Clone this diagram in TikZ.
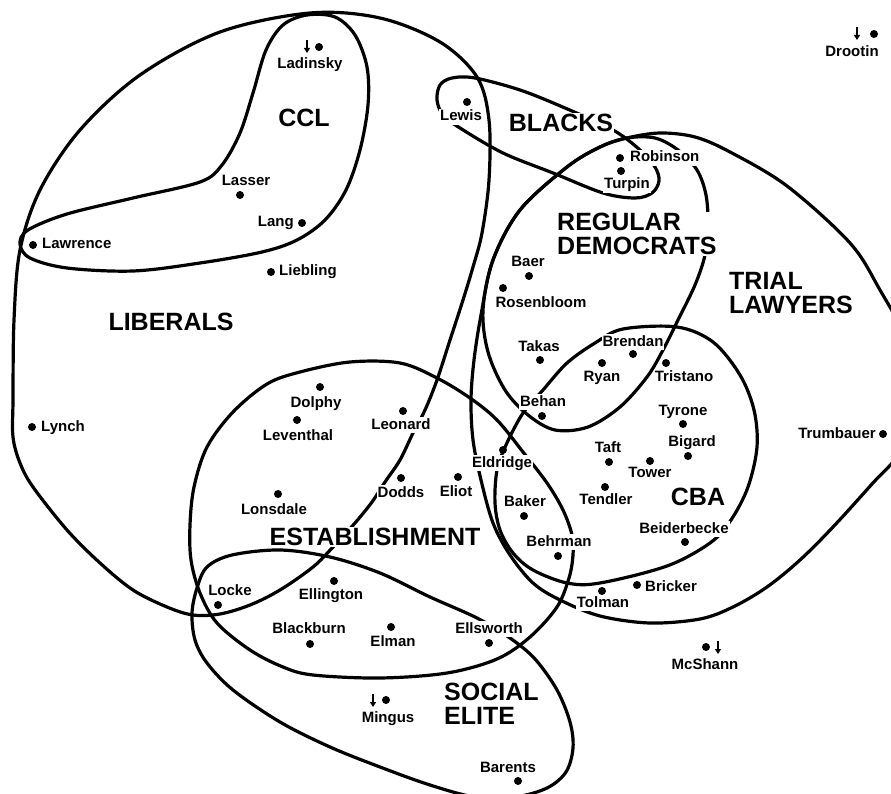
\documentclass[tikz,border=0pt]{standalone}
\usepackage{fontspec}
\setmainfont{Liberation Sans}
\usetikzlibrary{arrows.meta}
\begin{document}
\begin{tikzpicture}[x=1pt,y=-1pt,
  grp/.style={line width=3.2pt, line join=round},
  nm/.style={font=\bfseries\fontsize{15}{16}\selectfont, fill=white, inner sep=1pt, text height=11pt, text depth=3pt},
  big/.style={font=\bfseries\fontsize{25}{24.5}\selectfont, fill=white, inner sep=1pt, align=left},
  dot/.style={circle, fill=black, inner sep=0pt, minimum size=8pt},
  dn/.style={line width=1.8pt, -{Triangle[width=6pt,length=5pt]}}]
\useasboundingbox (0,0) rectangle (891,794);
\fill[white] (0,0) rectangle (891,794);
% LIBERALS
\draw[grp] plot[smooth cycle, tension=0.55] coordinates {(13,400) (14,320) (20,250) (40,190) (80,130) (140,75) (220,32) (310,13) (380,18) (440,42) (477,77) (489,120) (489,180) (482,233) (473,267) (463,300) (450,340) (437,380) (425,410) (413,433) (400,460) (385,482) (372,502) (355,523) (333,547) (313,567) (280,590) (250,605) (220,614) (193,615) (167,607) (133,590) (100,563) (67,530) (33,487) (20,463) (13,437)};
% CCL
\draw[grp] plot[smooth cycle, tension=0.55] coordinates {(307,15) (335,17) (355,35) (367,67) (368,105) (360,150) (346,190) (325,220) (297,240) (262,252) (200,263) (133,271) (67,268) (30,258) (20,244) (28,230) (67,214) (133,198) (200,182) (222,165) (240,133) (253,93) (266,50) (283,25)};
% BLACKS
\draw[grp] plot[smooth cycle, tension=0.55] coordinates {(437,100) (440,85) (452,78) (475,78) (520,90) (565,108) (613,130) (640,150) (655,167) (659,181) (652,193) (635,198) (603,193) (553,173) (503,153) (460,128) (443,115)};
% REGULAR DEMOCRATS
\draw[grp] plot[smooth cycle, tension=0.55] coordinates {(627,138) (600,147) (567,167) (520,210) (493,260) (483,310) (488,352) (505,390) (528,415) (555,430) (588,427) (620,407) (647,377) (663,350) (678,320) (695,285) (705,255) (708,225) (706,195) (697,170) (678,150) (655,138)};
% TRIAL LAWYERS
\draw[grp] plot[smooth cycle, tension=0.55] coordinates {(627,138) (660,133) (695,137) (730,152) (787,186) (850,243) (880,290) (912,350) (920,400) (900,452) (872,484) (833,527) (800,560) (767,587) (733,607) (700,619) (650,623) (600,616) (560,600) (533,583) (510,555) (493,523) (481,480) (473,440) (471,400) (474,360) (481,315) (493,260) (520,210) (567,167) (600,147)};
% CBA
\draw[grp] plot[smooth cycle, tension=0.55] coordinates {(623,329) (677,327) (713,342) (740,375) (754,410) (757,447) (748,487) (731,520) (710,543) (667,566) (600,583) (567,583) (533,570) (513,553) (500,530) (495,503) (497,470) (506,445) (523,413) (543,390) (567,363) (595,343)};
% ESTABLISHMENT
\draw[grp] plot[smooth cycle, tension=0.55] coordinates {(267,384) (300,372) (350,362) (400,363) (437,378) (470,398) (497,420) (523,452) (547,483) (563,510) (572,535) (573,555) (569,578) (557,607) (530,637) (497,659) (447,673) (380,678) (313,675) (283,667) (250,650) (217,623) (200,593) (191,560) (190,525) (194,487) (207,447) (233,412)};
% SOCIAL ELITE
\draw[grp] plot[smooth cycle, tension=0.55] coordinates {(207,567) (232,555) (280,550) (330,557) (380,573) (430,597) (477,618) (510,638) (535,659) (557,690) (570,722) (573,748) (566,772) (547,788) (515,797) (475,797) (430,785) (380,767) (330,747) (280,722) (233,690) (207,663) (195,640) (192,613) (197,588)};

% group labels
\node[big] (gCCL) at (304,118) {CCL};
\node[big] (gLIB) at (171,322) {LIBERALS};
\node[big] (gBLK) at (561,123) {BLACKS};
\node[big, anchor=west] (gREG) at (556,234) {REGULAR\\DEMOCRATS};
\node[big, anchor=west] (gTRI) at (728,293) {TRIAL\\LAWYERS};
\node[big] (gCBA) at (698,497) {CBA};
\node[big] (gEST) at (375,537) {ESTABLISHMENT};
\node[big, anchor=west] (gSOC) at (443,704) {SOCIAL\\ELITE};

% names
\node[nm] (Ladinsky) at (310,65) {Ladinsky};
\node[nm] (Lasser) at (246,182) {Lasser};
\node[nm, anchor=east] (Lang) at (295,223) {Lang};
\node[nm, anchor=west] (Lawrence) at (41,245) {Lawrence};
\node[nm, anchor=west] (Liebling) at (278,272) {Liebling};
\node[nm, anchor=west] (Lynch) at (40,427) {Lynch};
\node[nm] (Dolphy) at (316,403) {Dolphy};
\node[nm] (Leventhal) at (298,436) {Leventhal};
\node[nm] (Leonard) at (401,425) {Leonard};
\node[nm] (Lonsdale) at (274,510) {Lonsdale};
\node[nm] (Dodds) at (401,493) {Dodds};
\node[nm] (Eliot) at (456,492) {Eliot};
\node[nm] (Eldridge) at (502,463) {Eldridge};
\node[nm] (Baker) at (525,502) {Baker};
\node[nm] (Behrman) at (559,542) {Behrman};
\node[nm] (Locke) at (230,591) {Locke};
\node[nm] (Ellington) at (331,595) {Ellington};
\node[nm] (Blackburn) at (309,629) {Blackburn};
\node[nm] (Elman) at (393,642) {Elman};
\node[nm] (Ellsworth) at (489,629) {Ellsworth};
\node[nm] (Mingus) at (388,718) {Mingus};
\node[nm] (Barents) at (508,768) {Barents};
\node[nm] (Lewis) at (461,117) {Lewis};
\node[nm, anchor=west] (Robinson) at (629,158) {Robinson};
\node[nm] (Turpin) at (627,185) {Turpin};
\node[nm] (Baer) at (528,262) {Baer};
\node[nm] (Rosenbloom) at (541,303) {Rosenbloom};
\node[nm] (Takas) at (539,347) {Takas};
\node[nm] (Brendan) at (633,342) {Brendan};
\node[nm] (Ryan) at (602,377) {Ryan};
\node[nm] (Tristano) at (684,377) {Tristano};
\node[nm] (Behan) at (543,402) {Behan};
\node[nm] (Tyrone) at (683,411) {Tyrone};
\node[nm] (Bigard) at (692,442) {Bigard};
\node[nm] (Taft) at (608,448) {Taft};
\node[nm] (Tower) at (650,473) {Tower};
\node[nm] (Tendler) at (606,500) {Tendler};
\node[nm] (Beiderbecke) at (684,529) {Beiderbecke};
\node[nm] (Tolman) at (603,603) {Tolman};
\node[nm, anchor=west] (Bricker) at (644,587) {Bricker};
\node[nm, anchor=east] (Trumbauer) at (877,434) {Trumbauer};
\node[nm] (McShann) at (705,665) {McShann};
\node[nm] (Drootin) at (852,53) {Drootin};

% dots
\node[dot] (dLadinsky) at (319,47) {};
\node[dot] (dLasser) at (240,195) {};
\node[dot] (dLang) at (302,223) {};
\node[dot] (dLawrence) at (33,245) {};
\node[dot] (dLiebling) at (271,272) {};
\node[dot] (dLynch) at (32,427) {};
\node[dot] (dDolphy) at (320,387) {};
\node[dot] (dLeventhal) at (297,420) {};
\node[dot] (dLeonard) at (403,411) {};
\node[dot] (dLonsdale) at (278,494) {};
\node[dot] (dDodds) at (401,478) {};
\node[dot] (dEliot) at (458,477) {};
\node[dot] (dEldridge) at (503,450) {};
\node[dot] (dBaker) at (524,516) {};
\node[dot] (dBehrman) at (558,556) {};
\node[dot] (dLocke) at (218,605) {};
\node[dot] (dEllington) at (334,581) {};
\node[dot] (dBlackburn) at (310,644) {};
\node[dot] (dElman) at (391,627) {};
\node[dot] (dEllsworth) at (489,643) {};
\node[dot] (dMingus) at (386,700) {};
\node[dot] (dBarents) at (518,781) {};
\node[dot] (dLewis) at (467,102) {};
\node[dot] (dRobinson) at (620,158) {};
\node[dot] (dTurpin) at (621,171) {};
\node[dot] (dBaer) at (529,276) {};
\node[dot] (dRosenbloom) at (503,288) {};
\node[dot] (dTakas) at (540,360) {};
\node[dot] (dBrendan) at (633,354) {};
\node[dot] (dRyan) at (602,363) {};
\node[dot] (dTristano) at (666,363) {};
\node[dot] (dBehan) at (542,416) {};
\node[dot] (dTyrone) at (683,424) {};
\node[dot] (dBigard) at (688,456) {};
\node[dot] (dTaft) at (609,462) {};
\node[dot] (dTower) at (650,461) {};
\node[dot] (dTendler) at (605,487) {};
\node[dot] (dBeiderbecke) at (685,542) {};
\node[dot] (dTolman) at (602,591) {};
\node[dot] (dBricker) at (637,585) {};
\node[dot] (dTrumbauer) at (883,434) {};
\node[dot] (dMcShann) at (706,647) {};
\node[dot] (dDrootin) at (874,34) {};

% down arrows
\coordinate (aLa1) at (307,40); \coordinate (aLa2) at (307,53);
\coordinate (aMi1) at (373,694); \coordinate (aMi2) at (373,707);
\coordinate (aMc1) at (718,641); \coordinate (aMc2) at (718,654);
\coordinate (aDr1) at (857,27); \coordinate (aDr2) at (857,40);
\draw[dn] (aLa1) -- (aLa2);
\draw[dn] (aMi1) -- (aMi2);
\draw[dn] (aMc1) -- (aMc2);
\draw[dn] (aDr1) -- (aDr2);
\end{tikzpicture}
\end{document}
